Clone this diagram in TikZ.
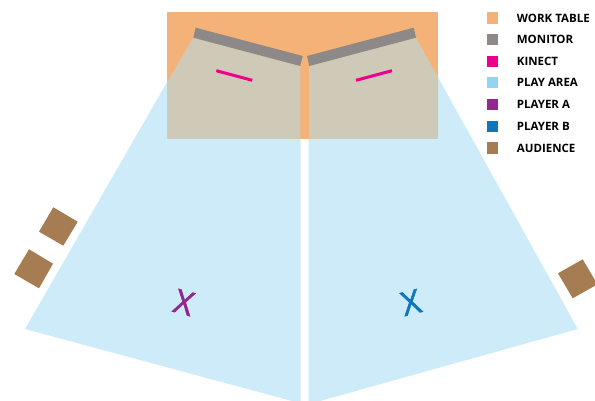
\documentclass[tikz,border=0pt]{standalone}
\usepackage{fontspec}
\setmainfont{Open Sans}
\newfontfamily\markfont[FakeBold=1.5]{Open Sans}
\usepackage{xcolor}
\usepackage{tikz}
\usetikzlibrary{positioning,calc}
\definecolor{tablecol}{HTML}{F5B278}
\definecolor{monitorcol}{HTML}{8D8989}
\definecolor{kinectcol}{HTML}{EC008C}
\definecolor{legendplay}{HTML}{93D5F1}
\definecolor{playcol}{HTML}{CDEBF9}
\definecolor{overlapcol}{HTML}{CFCAB7}
\definecolor{playeracol}{HTML}{92278F}
\definecolor{playerbcol}{HTML}{0F75BC}
\definecolor{audiencecol}{HTML}{A67C52}
\tikzset{
  swatch/.style={minimum size=11.5pt,inner sep=0pt,outer sep=0pt},
  legendtext/.style={inner sep=0pt,anchor=west,font=\fontsize{11.5}{13}\selectfont\bfseries},
  kinectbar/.style={line width=3pt,kinectcol},
  playermark/.style={inner sep=0pt,font=\markfont\fontsize{33}{33}\selectfont}
}
\begin{document}
\begin{tikzpicture}[x=1pt,y=-1pt]
  \useasboundingbox (0,0) rectangle (595,401);
  % table and play area
  \fill[tablecol] (167.3,12) rectangle (438,139);
  \fill[playcol] (167.3,81.7) -- (25,329) -- (292,401) -- (300.5,401) -- (300.5,139) -- (167.3,139) -- cycle;
  \fill[playcol] (438,77.3) -- (577.8,329) -- (320,401) -- (308.5,401) -- (308.5,139) -- (438,139) -- cycle;
  \fill[overlapcol] (193.3,37.7) -- (300.3,66) -- (300.3,139) -- (167.3,139) -- (167.3,81.7) -- cycle;
  \fill[overlapcol] (416,37.7) -- (309,66) -- (309,139) -- (438,139) -- (438,77.3) -- cycle;
  % monitors
  \fill[monitorcol] (195.7,27.7) -- (302.7,56) -- (300.2,66) -- (193.3,37.7) -- cycle;
  \fill[monitorcol] (413.7,27.7) -- (307,56) -- (309.3,66) -- (416,37.7) -- cycle;
  \draw[kinectbar] (216.3,70.7) -- (252.3,80.3);
  \draw[kinectbar] (392,70.7) -- (356,80.3);
  % audience
  \fill[audiencecol] (53.3,207.3) -- (77.7,221.7) -- (63.3,245.7) -- (39,231.7) -- cycle;
  \fill[audiencecol] (29,249.3) -- (53,263.7) -- (39,288.3) -- (14.3,274) -- cycle;
  \fill[audiencecol] (558,273.3) -- (582.7,259.3) -- (595,280.2) -- (595,285.7) -- (572.7,298.3) -- cycle;
  % players
  \node[playermark,text=playeracol,rotate=-15] (playera) at (184,302.5) {X};
  \node[playermark,text=playerbcol,rotate=14] (playerb) at (411,302.5) {X};
  % legend
  \foreach \name/\col/\y/\lbl in {table/tablecol/18/WORK TABLE,monitor/monitorcol/39.7/MONITOR,kinect/kinectcol/61.3/KINECT,play/legendplay/82.7/PLAY AREA,pa/playeracol/104.7/PLAYER A,pb/playerbcol/126.3/PLAYER B,aud/audiencecol/148/AUDIENCE} {
    \node[swatch,fill=\col] (sw\name) at (492.5,\y) {};
    \node[legendtext] (lb\name) at (516.7,\y) {\lbl};
  }
\end{tikzpicture}
\end{document}
